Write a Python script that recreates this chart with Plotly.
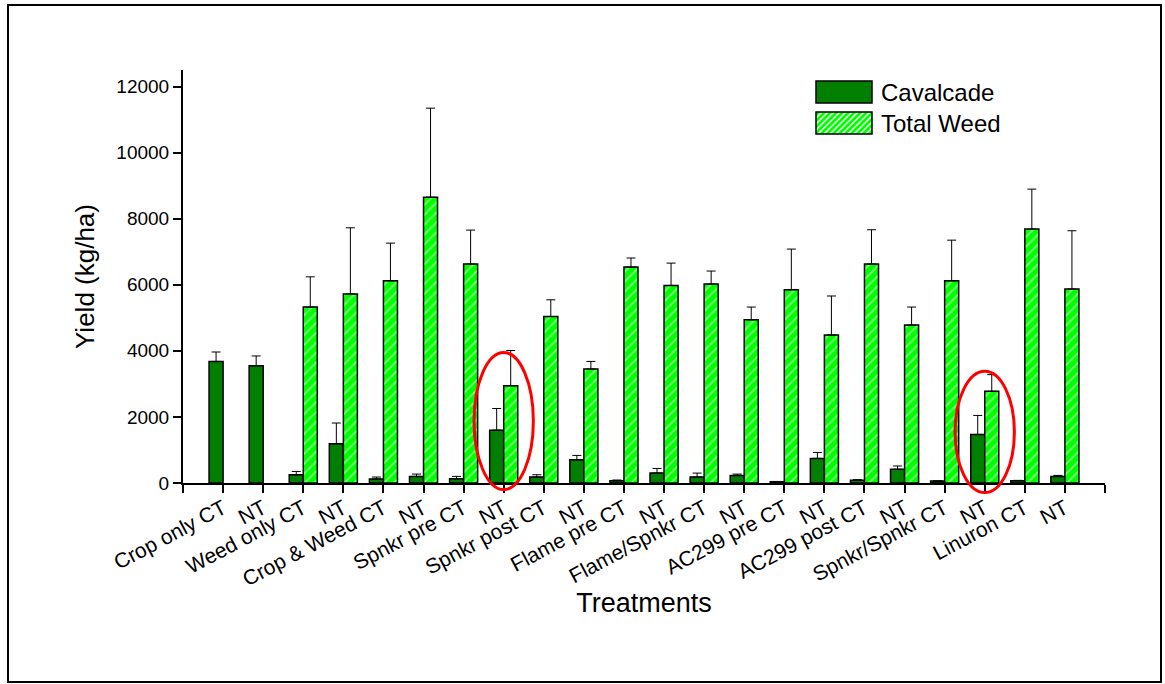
import plotly.graph_objects as go

categories = ["Crop only CT", "NT", "Weed only CT", "NT", "Crop & Weed CT", "NT",
              "Spnkr pre CT", "NT", "Spnkr post CT", "NT", "Flame pre CT", "NT",
              "Flame/Spnkr CT", "NT", "AC299 pre CT", "NT", "AC299 post CT", "NT",
              "Spnkr/Spnkr CT", "NT", "Linuron CT", "NT"]
cavalcade = [3680, 3550, 250, 1190, 120, 200, 130, 1600, 180, 705, 70, 300,
             180, 230, 40, 745, 80, 415, 60, 1470, 70, 200]
cavalcade_err = [285, 295, 100, 625, 60, 70, 70, 655, 70, 130, 20, 140,
                 120, 40, 0, 180, 20, 100, 0, 575, 10, 30]
total_weed = [None, None, 5325, 5720, 6120, 8650, 6625, 2945, 5040, 3450, 6535, 5980,
              6020, 4940, 5850, 4480, 6625, 4780, 6120, 2775, 7685, 5870]
total_weed_err = [0, 0, 915, 2005, 1140, 2695, 1030, 1065, 505, 230, 275, 675,
                  395, 385, 1230, 1180, 1040, 545, 1230, 505, 1210, 1765]
y_ticks = [0, 2000, 4000, 6000, 8000, 10000, 12000]
y_ticktext = ["0", "2000", "4000", "6000", "8000", "10000", "12000"]
series_names = ["Cavalcade", "Total Weed"]
# highlighted groups: (category index, low value, high value)
highlights = [(7, -200, 3950), (19, -290, 3380)]

FONT = "Liberation Sans, Arial, sans-serif"
DARK = "#007F00"
LIGHT = "#00FF00"
x_idx = list(range(len(categories)))
X_RANGE = [-1, len(categories)]
Y_RANGE = [0, 12500]

W, H = 1165, 684
ml, mr, mt, mb = 183, 60, 70, 201
pw, ph = W - ml - mr, H - mt - mb

fig = go.Figure()
fig.add_trace(go.Bar(
    name=series_names[0], x=x_idx, y=cavalcade,
    marker=dict(color=DARK, line=dict(color="black", width=1.5)),
    error_y=dict(type="data", array=cavalcade_err, arrayminus=[0]*len(cavalcade),
                 symmetric=False, color="black", thickness=1, width=4.5),
))
fig.add_trace(go.Bar(
    name=series_names[1], x=x_idx, y=total_weed,
    marker=dict(color=LIGHT, line=dict(color="black", width=1.5),
                pattern=dict(shape="/", fgcolor="white", bgcolor=LIGHT,
                             size=7, solidity=0.25)),
    error_y=dict(type="data", array=total_weed_err, arrayminus=[0]*len(total_weed),
                 symmetric=False, color="black", thickness=1, width=4.5),
))

def to_paper_x(v):
    return (v - X_RANGE[0]) / (X_RANGE[1] - X_RANGE[0])

def to_paper_y(v):
    return (v - Y_RANGE[0]) / (Y_RANGE[1] - Y_RANGE[0])

def px_x(p):
    return (p - ml) / pw

def px_y(p):
    return (H - mb - p) / ph

shapes = []
for ci, lo, hi in highlights:
    shapes.append(dict(type="circle", xref="paper", yref="paper",
                       x0=to_paper_x(ci - 0.74), x1=to_paper_x(ci + 0.74),
                       y0=to_paper_y(lo), y1=to_paper_y(hi),
                       line=dict(color="red", width=3), layer="above"))

# outer frame
shapes.append(dict(type="rect", xref="paper", yref="paper",
                   x0=px_x(8), x1=px_x(1161), y0=px_y(682), y1=px_y(5),
                   line=dict(color="black", width=2), layer="below"))

# manual legend with large swatches
annotations = []
sw_x0, sw_x1 = 816, 872
rows = [(81, 103), (112, 134)]
for i, (ya, yb) in enumerate(rows):
    fill = DARK if i == 0 else LIGHT
    shapes.append(dict(type="rect", xref="paper", yref="paper",
                       x0=px_x(sw_x0), x1=px_x(sw_x1), y0=px_y(yb), y1=px_y(ya),
                       fillcolor=fill, line=dict(width=0), layer="above"))
    if i == 1:
        hgt = yb - ya
        step = 6
        o = -hgt
        while o < (sw_x1 - sw_x0):
            xa, ya_ = sw_x0 + o, yb
            xb, yb_ = sw_x0 + o + hgt, ya
            if xa < sw_x0:
                d = sw_x0 - xa
                xa, ya_ = sw_x0, yb - d
            if xb > sw_x1:
                d = xb - sw_x1
                xb, yb_ = sw_x1, ya + d
            if xb > xa:
                shapes.append(dict(type="line", xref="paper", yref="paper",
                                   x0=px_x(xa), y0=px_y(ya_), x1=px_x(xb), y1=px_y(yb_),
                                   line=dict(color="white", width=1.5), layer="above"))
            o += step
    shapes.append(dict(type="rect", xref="paper", yref="paper",
                       x0=px_x(sw_x0), x1=px_x(sw_x1), y0=px_y(yb), y1=px_y(ya),
                       fillcolor="rgba(0,0,0,0)", line=dict(color="black", width=1.5),
                       layer="above"))
    annotations.append(dict(xref="paper", yref="paper", x=px_x(879), y=px_y((ya + yb) / 2),
                            xanchor="left", yanchor="middle", showarrow=False,
                            text=series_names[i], font=dict(size=24, family=FONT, color="black")))

fig.update_layout(
    width=W, height=H,
    margin=dict(l=ml, r=mr, t=mt, b=mb, pad=0),
    paper_bgcolor="white", plot_bgcolor="white",
    font=dict(family=FONT, color="black", size=18),
    barmode="group", bargap=0.3, bargroupgap=0,
    showlegend=False,
    shapes=shapes,
    annotations=annotations,
    xaxis=dict(range=X_RANGE, tickmode="array",
               tickvals=[-1] + x_idx + [len(categories)],
               ticktext=[""] + categories + [""],
               tickangle=-28, ticks="outside", ticklen=8, tickwidth=2,
               tickcolor="black", showline=True, linecolor="black", linewidth=2,
               showgrid=False, zeroline=False, ticklabelstandoff=-5,
               tickfont=dict(size=21, family=FONT),
               title=dict(text="Treatments", font=dict(size=27, family=FONT), standoff=4)),
    yaxis=dict(range=Y_RANGE, tickmode="array", tickvals=y_ticks, ticktext=y_ticktext,
               ticks="outside", ticklen=8, tickwidth=2, tickcolor="black",
               showline=True, linecolor="black", linewidth=2,
               showgrid=False, zeroline=False,
               tickfont=dict(size=19, family=FONT),
               title=dict(text="Yield (kg/ha)", font=dict(size=26, family=FONT), standoff=14)),
)

fig.write_html("out.html")
